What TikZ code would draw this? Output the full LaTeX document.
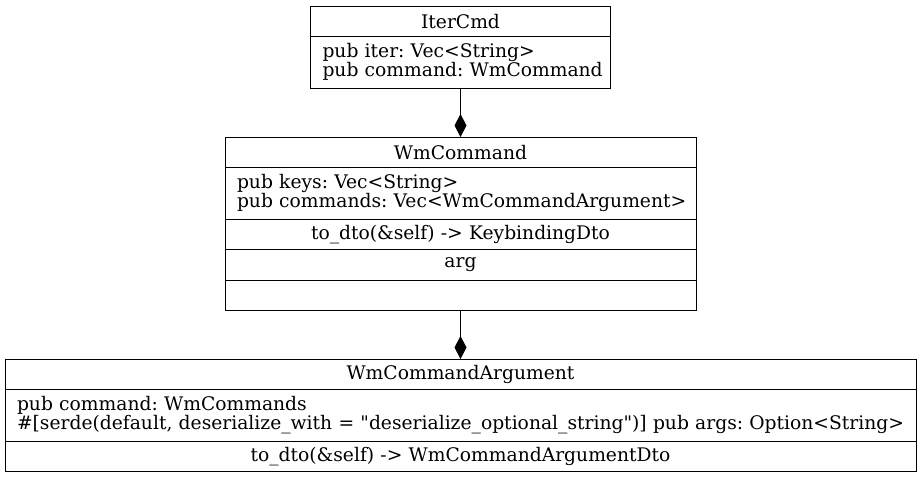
\documentclass[tikz,border=0pt]{standalone}
\usepackage{fontspec}
\newfontfamily\umlfont{DejaVu Serif}
\usetikzlibrary{positioning,arrows.meta}

\begin{document}
\frenchspacing
\begin{tikzpicture}
    [
    x=1pt, y=1pt,
    node distance=0pt,
    row/.style={
        rectangle,
        draw=black,
        line width=1pt,
        inner xsep=12pt,
        inner ysep=0pt,
        outer sep=0pt,
        font=\umlfont\fontsize{18.7}{19}\selectfont
    },
    head/.style={row, align=center, minimum height=30.5pt},
    attrs/.style={row, align=left, minimum height=51.5pt},
    ops/.style={row, align=center, minimum height=30.5pt},
    compose/.style={-{Diamond[length=23pt, width=12pt]}, line width=1pt}
    ]

    \useasboundingbox (0,0) rectangle (921,-477);

% IterCmd
    \node[head, text width=276pt, anchor=north] (iterhead) at (460.5,-6) {IterCmd};
    \node[attrs, text width=276pt, below=of iterhead] (iterattrs) {\mbox{pub iter: Vec<String>}\\\mbox{pub command: WmCommand}};

% WmCommand
    \node[head, text width=447pt, anchor=north] (cmdhead) at (460.5,-137) {WmCommand};
    \node[attrs, text width=447pt, below=of cmdhead] (cmdattrs) {\mbox{pub keys: Vec<String>}\\\mbox{pub commands: Vec<WmCommandArgument>}};
    \node[ops, text width=447pt, below=of cmdattrs] (cmdops) {to\_dto(\&self) -> KeybindingDto};
    \node[ops, text width=447pt, below=of cmdops] (cmdarg) {arg};
    \node[ops, text width=447pt, below=of cmdarg] (cmdempty) {};

% WmCommandArgument
    \node[head, text width=887pt, anchor=north] (arghead) at (460.5,-359) {WmCommandArgument};
    \node[attrs, text width=887pt, below=of arghead] (argattrs) {\mbox{pub command: WmCommands}\\\mbox{\#[serde(default, deserialize\_with = "deserialize\_optional\_string")] pub args: Option<String>}};
    \node[ops, text width=887pt, below=of argattrs] (argops) {to\_dto(\&self) -> WmCommandArgumentDto};

% Composition
    \draw[compose] (iterattrs) -- (cmdhead);
    \draw[compose] (cmdempty) -- (arghead);

\end{tikzpicture}
\end{document}
